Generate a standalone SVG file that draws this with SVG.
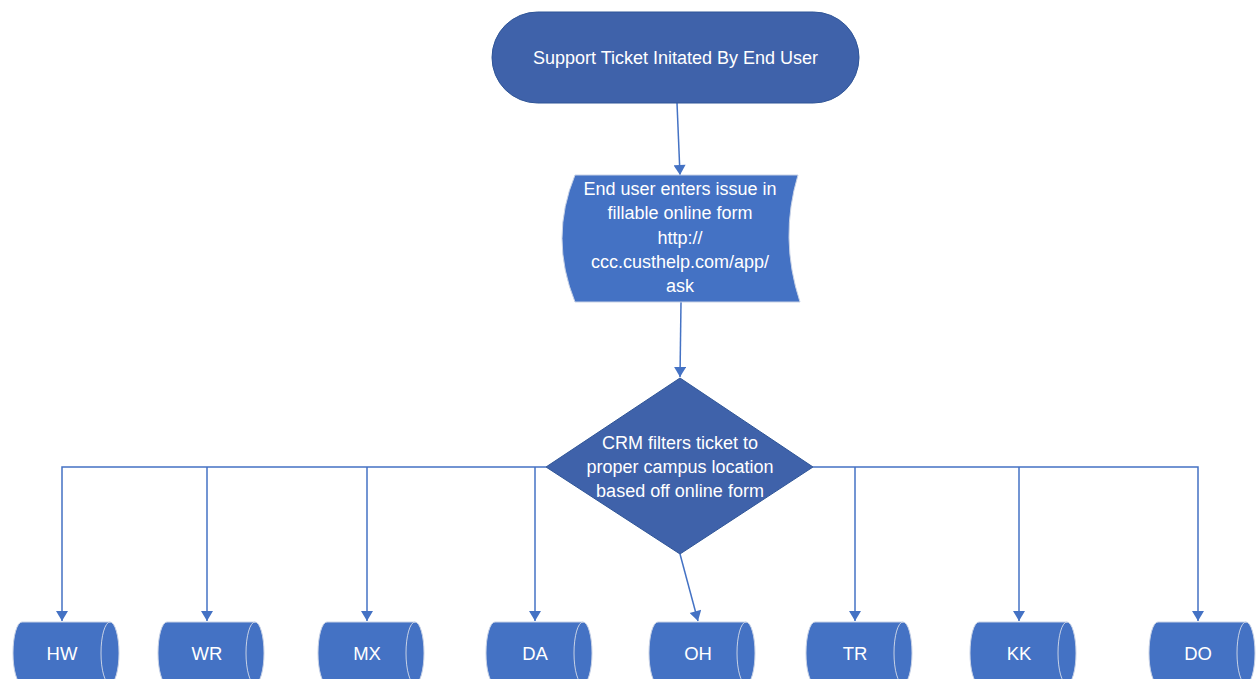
<svg xmlns="http://www.w3.org/2000/svg" width="1259" height="679" viewBox="0 0 1259 679">
<defs>
<style>
.dark{fill:#3F62AA;stroke:#2F5597;stroke-width:1}
.light{fill:#4472C4;stroke:#C8D2E6;stroke-width:1}
.t{font-family:"Liberation Sans",Arial,sans-serif;font-size:18px;fill:#FFFFFF;text-anchor:middle;dominant-baseline:central}
.lab{font-family:"Liberation Sans",Arial,sans-serif;font-size:18.5px;fill:#FFFFFF;text-anchor:middle;dominant-baseline:central}
.c{fill:none;stroke:#4472C4;stroke-width:1.5}
.inner{fill:none;stroke:#C8D2E6;stroke-width:1}
</style>
<marker id="ah" markerUnits="userSpaceOnUse" markerWidth="12" markerHeight="12" viewBox="0 0 10 12" refX="10" refY="6" orient="auto">
<path d="M0,0 L10,6 L0,12 z" fill="#4472C4"/>
</marker>
</defs>
<rect width="1259" height="679" fill="#FFFFFF"/>
<g id="connectors">
<line class="c" x1="677" y1="103" x2="680" y2="175" marker-end="url(#ah)"/>
<line class="c" x1="681" y1="302" x2="680" y2="377" marker-end="url(#ah)"/>
<polyline class="c" points="546,467 62,467 62,621" marker-end="url(#ah)"/>
<polyline class="c" points="207,467 207,621" marker-end="url(#ah)"/>
<polyline class="c" points="367,467 367,621" marker-end="url(#ah)"/>
<polyline class="c" points="535,467 535,621" marker-end="url(#ah)"/>
<line class="c" x1="680" y1="554" x2="698" y2="621" marker-end="url(#ah)"/>
<polyline class="c" points="813,467 1198,467 1198,621" marker-end="url(#ah)"/>
<polyline class="c" points="855,467 855,621" marker-end="url(#ah)"/>
<polyline class="c" points="1019,467 1019,621" marker-end="url(#ah)"/>
</g>
<g id="start">
<rect class="dark" x="492" y="12" width="367" height="91" rx="45.5" ry="45.5"/>
<text class="t" x="675.5" y="58">Support Ticket Initated By End User</text>
</g>
<g id="form">
<path class="light" d="M575,175 H798 Q779,238 800,302 H575 Q549,238 575,175 Z"/>
<text class="t" x="680" y="189">End user enters issue in</text>
<text class="t" x="680" y="213">fillable online form</text>
<text class="t" x="680" y="238">http://</text>
<text class="t" x="680" y="262">ccc.custhelp.com/app/</text>
<text class="t" x="680" y="286">ask</text>
</g>
<g id="crm">
<path class="dark" d="M680,378 L813,467 L680,554 L546,467 Z"/>
<text class="t" x="680" y="443">CRM filters ticket to</text>
<text class="t" x="680" y="467">proper campus location</text>
<text class="t" x="680" y="491">based off online form</text>
</g>
<g id="hw">
<path class="light" d="M22,622 H110 A9 31 0 0 1 110,684 H22 A9 31 0 0 1 22,622 Z"/>
<path class="inner" d="M110,622 A9 31 0 0 0 110,684"/>
<text class="lab" x="62" y="653">HW</text>
</g>
<g id="wr">
<path class="light" d="M167,622 H255 A9 31 0 0 1 255,684 H167 A9 31 0 0 1 167,622 Z"/>
<path class="inner" d="M255,622 A9 31 0 0 0 255,684"/>
<text class="lab" x="207" y="653">WR</text>
</g>
<g id="mx">
<path class="light" d="M327,622 H415 A9 31 0 0 1 415,684 H327 A9 31 0 0 1 327,622 Z"/>
<path class="inner" d="M415,622 A9 31 0 0 0 415,684"/>
<text class="lab" x="367" y="653">MX</text>
</g>
<g id="da">
<path class="light" d="M495,622 H583 A9 31 0 0 1 583,684 H495 A9 31 0 0 1 495,622 Z"/>
<path class="inner" d="M583,622 A9 31 0 0 0 583,684"/>
<text class="lab" x="535" y="653">DA</text>
</g>
<g id="oh">
<path class="light" d="M658,622 H746 A9 31 0 0 1 746,684 H658 A9 31 0 0 1 658,622 Z"/>
<path class="inner" d="M746,622 A9 31 0 0 0 746,684"/>
<text class="lab" x="698" y="653">OH</text>
</g>
<g id="tr">
<path class="light" d="M815,622 H903 A9 31 0 0 1 903,684 H815 A9 31 0 0 1 815,622 Z"/>
<path class="inner" d="M903,622 A9 31 0 0 0 903,684"/>
<text class="lab" x="855" y="653">TR</text>
</g>
<g id="kk">
<path class="light" d="M979,622 H1067 A9 31 0 0 1 1067,684 H979 A9 31 0 0 1 979,622 Z"/>
<path class="inner" d="M1067,622 A9 31 0 0 0 1067,684"/>
<text class="lab" x="1019" y="653">KK</text>
</g>
<g id="do">
<path class="light" d="M1158,622 H1246 A9 31 0 0 1 1246,684 H1158 A9 31 0 0 1 1158,622 Z"/>
<path class="inner" d="M1246,622 A9 31 0 0 0 1246,684"/>
<text class="lab" x="1198" y="653">DO</text>
</g>
</svg>
